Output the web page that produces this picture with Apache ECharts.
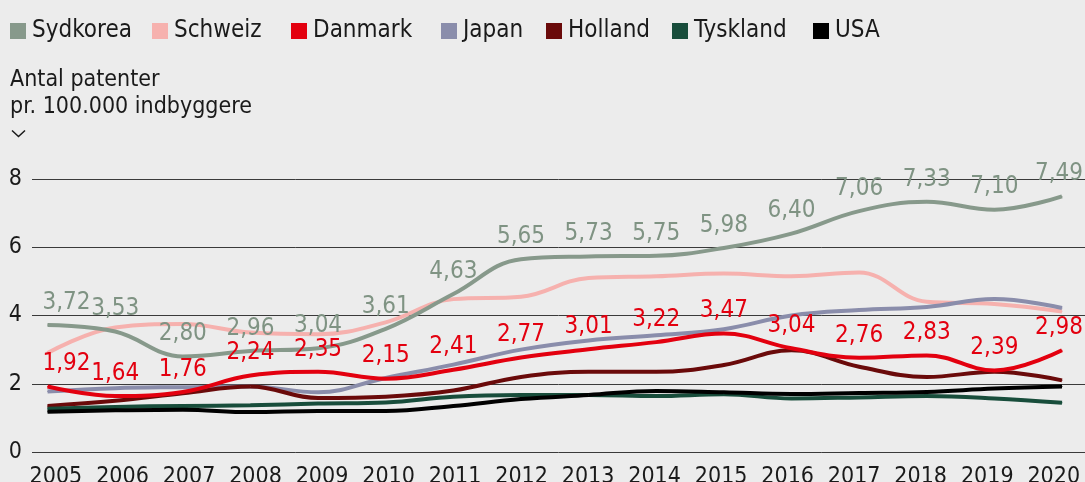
<!DOCTYPE html>
<html>
<head>
<meta charset="utf-8">
<script src="https://cdn.jsdelivr.net/npm/echarts@6/dist/echarts.min.js"></script>
<style>
html,body{margin:0;padding:0;background:#ececec;}
#c{width:1085px;height:482px;}
</style>
</head>
<body>
<div id="c"></div>
<script>
var years = [2005,2006,2007,2008,2009,2010,2011,2012,2013,2014,2015,2016,2017,2018,2019,2020];
var yTicks = [0,2,4,6,8];
var names = ['Sydkorea','Schweiz','Danmark','Japan','Holland','Tyskland','USA'];
var sydkorea = [3.72,3.53,2.80,2.96,3.04,3.61,4.63,5.65,5.73,5.75,5.98,6.40,7.06,7.33,7.10,7.49];
var schweiz  = [2.90,3.65,3.75,3.50,3.45,3.80,4.48,4.55,5.10,5.15,5.23,5.15,5.26,4.40,4.34,4.12];
var danmark  = [1.92,1.64,1.76,2.24,2.35,2.15,2.41,2.77,3.01,3.22,3.47,3.04,2.76,2.83,2.39,2.98];
var japan    = [1.77,1.87,1.90,1.92,1.75,2.17,2.56,3.00,3.27,3.42,3.60,4.00,4.16,4.25,4.48,4.22];
var holland  = [1.35,1.50,1.72,1.92,1.58,1.62,1.80,2.20,2.35,2.35,2.55,2.98,2.50,2.20,2.35,2.10];
var tyskland = [1.27,1.32,1.35,1.37,1.42,1.45,1.62,1.67,1.67,1.64,1.69,1.57,1.60,1.64,1.57,1.44];
var usa      = [1.18,1.22,1.24,1.17,1.20,1.20,1.35,1.55,1.67,1.79,1.75,1.70,1.73,1.76,1.86,1.92];

var FONT = "'DejaVu Sans Condensed', 'DejaVu Sans', sans-serif";
var TXT = '#1a1a1a';

function pairs(arr, labelled) {
  var last = arr.length - 1;
  return arr.map(function (v, i) {
    if (labelled && i === 0) return { value: [years[i], v], label: { offset: [19, 0] } };
    if (labelled && i === last) return { value: [years[i], v], label: { offset: [-3, 0] } };
    return [years[i], v];
  });
}
function fmt(p) { return p.value[1].toFixed(2).replace('.', ','); }

function lineSeries(name, arr, color, labelColor) {
  var s = {
    name: name, type: 'line', smooth: 0.4, symbol: 'circle', symbolSize: 1, showSymbol: true,
    lineStyle: { width: 4, color: color }, itemStyle: { color: color },
    data: pairs(arr, !!labelColor),
    z: 2
  };
  if (labelColor) {
    s.label = { show: true, position: 'top', distance: 10, color: labelColor,
      fontFamily: FONT, fontSize: 24, formatter: fmt };
    s.z = 3;
  }
  return s;
}

var legendLefts = [10, 152, 291, 441, 546, 672, 813];
var legends = names.map(function (n, i) {
  return {
    left: legendLefts[i], top: 19, padding: 0, icon: 'rect', itemWidth: 16, itemHeight: 16,
    textStyle: { fontFamily: FONT, fontSize: 24, color: TXT, padding: [0, 0, 0, 1] },
    data: [n], selectedMode: false
  };
});

var chart = echarts.init(document.getElementById('c'), null, { renderer: 'canvas' });
chart.setOption({
  backgroundColor: '#ececec',
  animation: false,
  textStyle: { fontFamily: FONT },
  legend: legends,
  grid: { left: 32, right: 0, top: 179, bottom: 30, containLabel: false, outerBoundsMode: 'none' },
  xAxis: [{
    type: 'value', min: 2004.77, max: 2020.34,
    axisLine: { show: false }, axisTick: { show: false }, splitLine: { show: false },
    axisLabel: { show: false }
  }, {
    type: 'value', position: 'bottom', min: 2004.64, max: 2020.47,
    axisLine: { show: false }, axisTick: { show: false }, splitLine: { show: false },
    axisLabel: { customValues: years, color: TXT, fontFamily: FONT, fontSize: 23, margin: 14,
      formatter: function (v) { return String(v); } }
  }],
  yAxis: {
    type: 'value', min: 0, max: 8, interval: 2,
    axisLine: { show: false }, axisTick: { show: false },
    splitLine: { show: true, lineStyle: { color: '#3a3a3a', width: 1 } },
    axisLabel: { color: TXT, fontFamily: FONT, fontSize: 23, margin: 10 }
  },
  graphic: [
    { type: 'text', left: 10, top: 69, style: { text: 'Antal patenter', fill: TXT, font: '23px ' + FONT } },
    { type: 'text', left: 10, top: 96, style: { text: 'pr. 100.000 indbyggere', fill: TXT, font: '23px ' + FONT } },
    { type: 'polyline', shape: { points: [[12, 130.5], [18.5, 136.5], [25, 130.5]] },
      style: { stroke: TXT, lineWidth: 1.5, fill: null } }
  ],
  series: [
    lineSeries('Sydkorea', sydkorea, '#87998b', '#7f9383'),
    lineSeries('Schweiz', schweiz, '#f6b1ae'),
    lineSeries('Danmark', danmark, '#e3000f', '#e3000f'),
    lineSeries('Japan', japan, '#8a8dab'),
    lineSeries('Holland', holland, '#6a0a0a'),
    lineSeries('Tyskland', tyskland, '#184d3b'),
    lineSeries('USA', usa, '#000000')
  ]
});
</script>
</body>
</html>
